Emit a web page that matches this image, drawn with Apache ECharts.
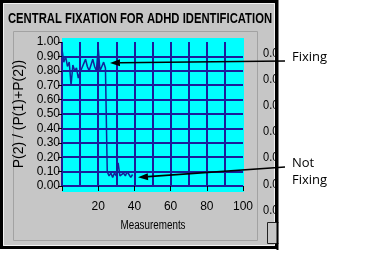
<!DOCTYPE html>
<html><head><meta charset="utf-8">
<script src="https://cdn.jsdelivr.net/npm/echarts@6/dist/echarts.min.js"></script>
<style>html,body{margin:0;padding:0;background:#fff}#c{width:373px;height:254px}</style>
</head><body><div id="c"></div><script>
// ---- data ----
const titleText = 'CENTRAL FIXATION FOR ADHD IDENTIFICATION';
const yAxisName = 'P(2) / (P(1)+P(2))';
const xAxisName = 'Measurements';
const measurements = [0,1,2,3,4,5,6,7,8,9,10,11,12,13,14,15,16,17,18,19,20,21,22,23,24,25,26,27,28,29,30,31,32,33,34,35,36,37,38,39];
const ratio = [0.95,0.86,0.90,0.83,0.86,0.70,0.84,0.80,0.82,0.75,0.79,0.82,0.85,0.88,0.83,0.80,0.84,0.88,0.83,0.80,0.96,0.80,0.83,0.86,0.82,0.10,0.07,0.09,0.06,0.09,0.07,0.16,0.07,0.06,0.09,0.07,0.10,0.08,0.06,0.08];
const xRange = [0, 100];
const yRange = [0, 1];
const sideValues = ['0.0','0.0','0.0','0.0','0.0','0.0','0.0'];
const annotationLabels = ['Fixing', 'Not\nFixing'];
const annotationTargets = [[26.5, 0.855], [42, 0.06]];

const SANS = "'Liberation Sans',Arial,sans-serif";
const GRID = {left: 62, right: 130, top: 42, bottom: 68};
const gridColor = '#1c1c9a';

const chart = echarts.init(document.getElementById('c'), null, {renderer: 'canvas'});

function staticGraphics() {
  const g = [];
  g.push({type:'rect', z:-100, silent:true, shape:{x:1.5,y:1.5,width:275,height:246}, style:{fill:'#c6c6c6', stroke:'#000', lineWidth:3}});
  g.push({type:'rect', z:-99, silent:true, shape:{x:3.5,y:3.5,width:271,height:242}, style:{fill:'none', stroke:'#f2f2f2', lineWidth:1}});
  g.push({type:'rect', z:-98, silent:true, shape:{x:13.5,y:31.5,width:244,height:209}, style:{fill:'none', stroke:'#a2a2a2', lineWidth:1}});
  g.push({type:'rect', z:-90, silent:true, shape:{x:62,y:38,width:182,height:154}, style:{fill:'#00ffff'}});
  g.push({type:'text', z:10, silent:true, x:140, y:19, scaleX:0.806, style:{text:titleText, fill:'#000', font:"bold 14px " + SANS, align:'center', verticalAlign:'middle'}});
  g.push({type:'text', z:10, silent:true, x:153, y:226, scaleX:0.82, style:{text:xAxisName, fill:'#000', font:"12px " + SANS, align:'center', verticalAlign:'middle'}});
  sideValues.forEach((v, i) => {
    g.push({type:'text', z:10, silent:true, x:263, y:53 + i * 26.2, scaleX:0.85, style:{text:v, fill:'#000', font:"13px " + SANS, align:'left', verticalAlign:'middle'}});
  });
  g.push({type:'rect', z:11, silent:true, shape:{x:267.5,y:222.5,width:12,height:21}, style:{fill:'#c6c6c6', stroke:'#222', lineWidth:1}});
  g.push({type:'rect', z:12, silent:true, shape:{x:278.5,y:0,width:14,height:254}, style:{fill:'#fff'}});
  g.push({type:'line', z:13, silent:true, shape:{x1:277.5,y1:0,x2:277.5,y2:250}, style:{stroke:'#000', lineWidth:2}});
  return g;
}

function baseOption(extra) {
  return {
    animation: false,
    backgroundColor: '#ffffff',
    grid: GRID,
    xAxis: {
      type: 'value', min: xRange[0], max: xRange[1], interval: 20, offset: 6,
      axisLine: {show: false},
      axisTick: {show: true, length: 5, lineStyle: {color: '#000', width: 1}},
      minorTick: {show: false, splitNumber: 2},
      axisLabel: {color: '#000', fontFamily: SANS, fontSize: 12, margin: 9,
        formatter: v => v === 0 ? '' : String(v)},
      splitLine: {show: true, showMaxLine: false, lineStyle: {color: gridColor, width: 2}},
      minorSplitLine: {show: true, lineStyle: {color: gridColor, width: 2}}
    },
    yAxis: {
      type: 'value', min: yRange[0], max: yRange[1], interval: 0.1,
      axisLine: {show: false},
      axisTick: {show: true, length: 4, lineStyle: {color: '#000', width: 1}},
      axisLabel: {color: '#000', fontFamily: SANS, fontSize: 12, margin: 2,
        formatter: v => v.toFixed(2)},
      splitLine: {show: true, showMaxLine: false, lineStyle: {color: gridColor, width: 2}},
      name: yAxisName, nameLocation: 'middle', nameGap: 36,
      nameTextStyle: {color: '#000', fontFamily: SANS, fontSize: 14}
    },
    series: [{
      type: 'line', data: measurements.map((m, i) => [m, ratio[i]]),
      symbol: 'none', clip: false,
      lineStyle: {color: '#10249a', width: 1.5}
    }],
    graphic: staticGraphics().concat(extra || [])
  };
}

chart.setOption(baseOption());

const labelAnchors = [[290, 61], [290, 167]];
const extra = [];
annotationTargets.forEach((t, i) => {
  const tip = chart.convertToPixel({gridIndex: 0}, t);
  const end = [285, labelAnchors[i][1]];
  const dx = end[0] - tip[0], dy = end[1] - tip[1];
  const len = Math.sqrt(dx*dx + dy*dy);
  const ux = dx / len, uy = dy / len;
  const L = 10, W = 3.5;
  const bx = tip[0] + ux * L, by = tip[1] + uy * L;
  extra.push({type:'line', z:20, silent:true, shape:{x1:bx, y1:by, x2:end[0], y2:end[1]}, style:{stroke:'#000', lineWidth:1.6}});
  extra.push({type:'polygon', z:20, silent:true, shape:{points:[[tip[0], tip[1]], [bx - uy*W, by + ux*W], [bx + uy*W, by - ux*W]]}, style:{fill:'#000'}});
  extra.push({type:'text', z:20, silent:true, x:292, y:labelAnchors[i][1] - 12, style:{text:annotationLabels[i], fill:'#000', font:"13px 'Open Sans',sans-serif", lineHeight: 17, align:'left', verticalAlign:'top'}});
});
chart.setOption(baseOption(extra), {notMerge: true});
</script></body></html>
